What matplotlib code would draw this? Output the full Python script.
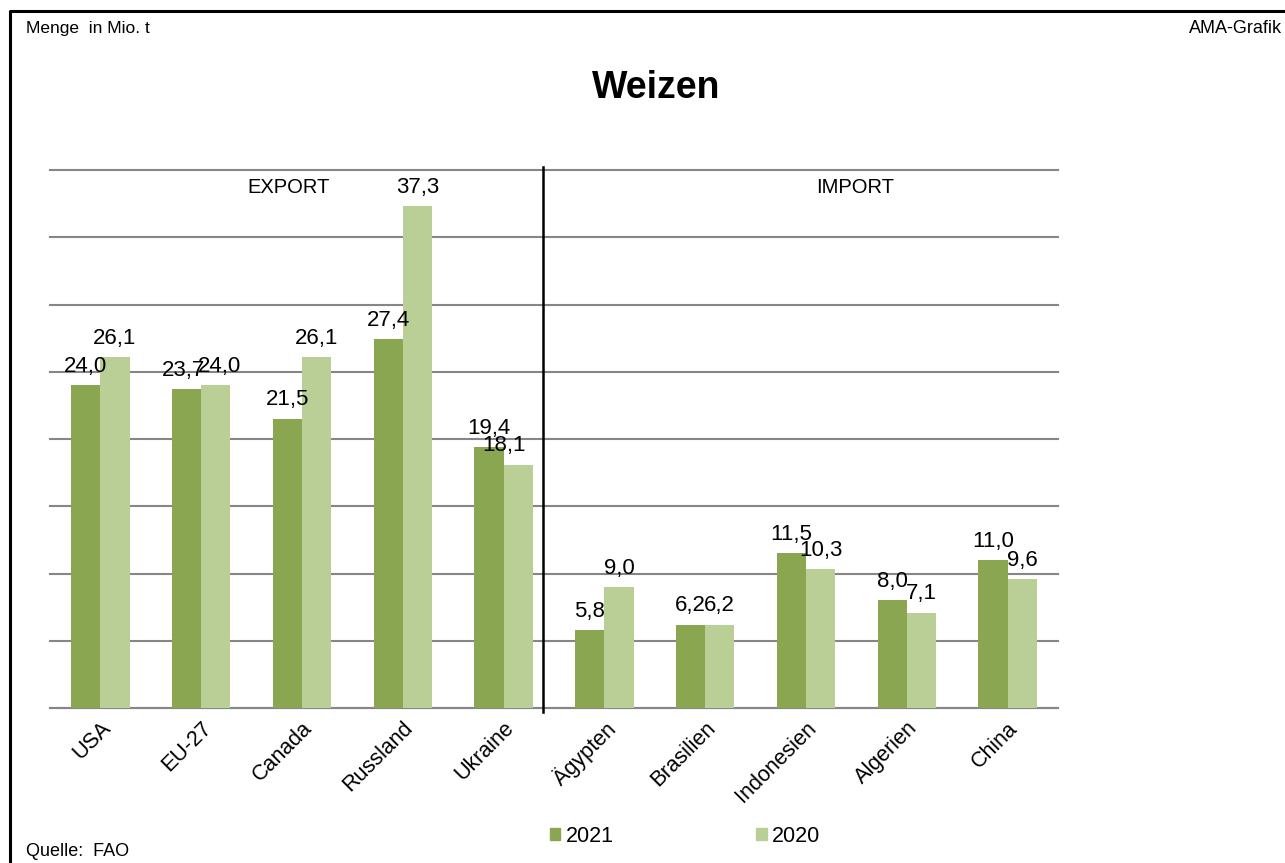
import matplotlib.pyplot as plt
from matplotlib.lines import Line2D
from matplotlib.patches import Patch
import numpy as np

plt.rcParams['font.family'] = ['Liberation Sans', 'DejaVu Sans']

laender = ['USA', 'EU-27', 'Canada', 'Russland', 'Ukraine',
           'Ägypten', 'Brasilien', 'Indonesien', 'Algerien', 'China']
werte2021 = [24.0, 23.7, 21.5, 27.4, 19.4, 5.8, 6.2, 11.5, 8.0, 11.0]
werte2020 = [26.1, 24.0, 26.1, 37.3, 18.1, 9.0, 6.2, 10.3, 7.1, 9.6]

col21 = '#8aa651'
col20 = '#b9cf95'
breite = 0.29

fig = plt.figure(figsize=(12.85, 8.63), dpi=100)
ax = fig.add_axes([0.0389, 0.1796, 0.7844, 0.6234])

x = np.arange(len(laender))
b21 = ax.bar(x - breite/2, werte2021, breite, color=col21, zorder=3)
b20 = ax.bar(x + breite/2, werte2020, breite, color=col20, zorder=3)

def fmt(v):
    return ('%.1f' % v).replace('.', ',')

for i in range(len(laender)):
    dx21 = -2 if laender[i] == 'EU-27' else 0
    ax.annotate(fmt(werte2021[i]), (x[i] - breite/2, werte2021[i]), xytext=(dx21, 6),
                textcoords='offset points', ha='center', va='bottom', fontsize=16)
    dx = -10 if laender[i] == 'Ukraine' else 0
    if laender[i] == 'EU-27':
        dx = 3
    ax.annotate(fmt(werte2020[i]), (x[i] + breite/2, werte2020[i]), xytext=(dx, 6),
                textcoords='offset points', ha='center', va='bottom', fontsize=16)

ax.set_xlim(-0.5, len(laender) - 0.5)
ax.set_ylim(0, 40)
ax.set_yticks(np.arange(0, 41, 5))
ax.set_yticklabels([])
ax.tick_params(axis='y', length=0)
ax.tick_params(axis='x', length=0, pad=7)
ax.set_xticks(x)
ax.set_xticklabels(laender, rotation=45, ha='right', rotation_mode='anchor', fontsize=15.5)
ax.grid(axis='y', color='#868686', lw=1.5, zorder=0)
for gl in ax.get_ygridlines():
    gl.set_clip_on(False)
for s in ['top', 'right', 'left']:
    ax.spines[s].set_visible(False)
ax.spines['bottom'].set_color('#868686')
ax.spines['bottom'].set_linewidth(1.5)

# Trennlinie Export / Import
ax.plot([4.39, 4.39], [-0.3, 40.2], color='black', lw=1.8, zorder=4, clip_on=False)
ax.text(1.87, 38.7, 'EXPORT', ha='center', va='center', fontsize=14.5)
ax.text(7.49, 38.7, 'IMPORT', ha='center', va='center', fontsize=14.5)

fig.text(0.511, 0.898, 'Weizen', ha='center', va='center', fontsize=27, fontweight='bold')
fig.text(0.02, 0.967, 'Menge  in Mio. t', ha='left', va='center', fontsize=12.5)
fig.text(0.998, 0.967, 'AMA-Grafik', ha='right', va='center', fontsize=13)
fig.text(0.02, 0.013, 'Quelle:  FAO', ha='left', va='center', fontsize=13)

handles = [Patch(color=col21, label='2021'), Patch(color=col20, label='2020')]
fig.legend(handles=handles, ncol=2, loc='center', bbox_to_anchor=(0.533, 0.031),
           frameon=False, handlelength=0.5, handleheight=0.5, handletextpad=0.25,
           columnspacing=6.6, fontsize=15.5)

# Rahmen oben und links
fig.add_artist(Line2D([10/1285, 10/1285, 1], [0, 1 - 11/863, 1 - 11/863],
                      color='black', lw=2.2, transform=fig.transFigure))

plt.savefig('out.png', dpi=100)
